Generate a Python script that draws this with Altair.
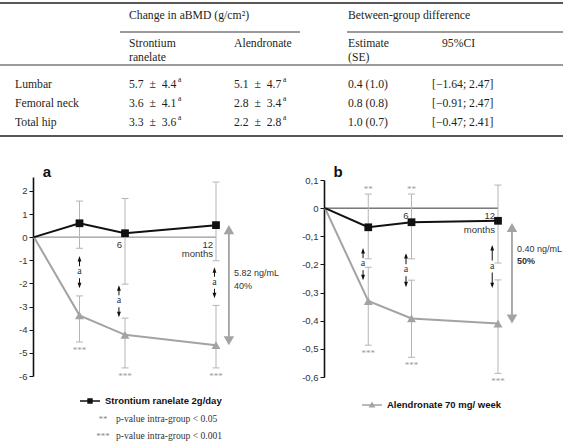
import altair as alt
import pandas as pd

SERIF = "Liberation Serif"
SANS = "Liberation Sans"

# ---------------- table values ----------------
row_names = ["Lumbar", "Femoral neck", "Total hip"]
sr_change = ["5.7\u2002±\u20024.4", "3.6\u2002±\u20024.1", "3.3\u2002±\u20023.6"]
al_change = ["5.1\u2002±\u20024.7", "2.8\u2002±\u20023.4", "2.2\u2002±\u20022.8"]
estimate = ["0.4 (1.0)", "0.8 (0.8)", "1.0 (0.7)"]
ci95 = ["[\u22121.64; 2.47]", "[\u22120.91; 2.47]", "[\u22120.47; 2.41]"]
header_top = ["Change in aBMD (g/cm²)", "Between-group difference"]
header_sub = ["Strontium", "Alendronate", "Estimate", "95%CI"]
header_sub2 = ["ranelate", "(SE)"]
sup_mark = "a"

# ---------------- panel values ----------------
months = [0, 3, 6, 12]
sr_name = "Strontium ranelate 2g/day"
al_name = "Alendronate 70 mg/ week"
x_tick_labels = ["6", "12"]
x_unit = "months"

a_ticks = [-6, -5, -4, -3, -2, -1, 0, 1, 2]
a_sr_mean = [0, 0.60, 0.17, 0.52]
a_sr_low = [-0.48, -2.03, -1.02]
a_sr_high = [1.56, 1.67, 2.38]
a_al_mean = [0, -3.38, -4.22, -4.67]
a_al_low = [-4.53, -5.65, -5.65]
a_al_high = [-2.54, -3.50, -2.95]
a_sr_stars = ["", "", ""]
a_al_stars = ["***", "***", "***"]
a_arrow_month = [3.0, 5.6, 11.9]
a_arrow_top = [-0.82, -2.08, -1.30]
a_arrow_bot = [-2.21, -3.46, -2.64]
a_gap = ["5.82 ng/mL", "40%"]

b_ticks = [-0.6, -0.5, -0.4, -0.3, -0.2, -0.1, 0, 0.1]
b_sr_mean = [0, -0.068, -0.050, -0.045]
b_sr_low = [-0.18, -0.18, -0.195]
b_sr_high = [0.05, 0.05, 0.082]
b_al_mean = [0, -0.33, -0.392, -0.41]
b_al_low = [-0.487, -0.53, -0.587]
b_al_high = [-0.21, -0.256, -0.255]
b_sr_stars = ["**", "**", ""]
b_al_stars = ["***", "***", "***"]
b_arrow_month = [2.64, 5.62, 11.6]
b_arrow_top = [-0.142, -0.16, -0.131]
b_arrow_bot = [-0.256, -0.281, -0.284]
b_gap = ["0.40 ng/mL", "50%"]

notes = [("**", "p-value intra-group < 0.05"), ("***", "p-value intra-group < 0.001")]

BLACK = "#111111"
GREY = "#a3a3a3"
ERR = "#b5b5b5"
TXT = "#333333"


def qx(field, sc):
    return alt.X(field, type="quantitative", scale=sc, axis=None)


def qy(field, sc, axis=None):
    return alt.Y(field, type="quantitative", scale=sc, axis=axis)


layers = []

# ---------------- table ----------------
recs = [
    dict(c=1, r=0, t=header_top[0]), dict(c=3, r=0, t=header_top[1]),
    dict(c=1, r=1, t=header_sub[0]), dict(c=2, r=1, t=header_sub[1]),
    dict(c=3, r=1, t=header_sub[2]), dict(c=5, r=1, t=header_sub[3]),
    dict(c=1, r=2, t=header_sub2[0]), dict(c=3, r=2, t=header_sub2[1]),
]
sups = []
for i, nm in enumerate(row_names):
    r = 3 + i
    recs += [dict(c=0, r=r, t=nm), dict(c=1, r=r, t=sr_change[i]),
             dict(c=2, r=r, t=al_change[i]), dict(c=3, r=r, t=estimate[i]),
             dict(c=4, r=r, t=ci95[i])]
    sups += [dict(c=1, r=r, t=sup_mark), dict(c=2, r=r, t=sup_mark)]
tbl_df = pd.DataFrame(recs)
sup_df = pd.DataFrame(sups)
col_sc = alt.Scale(domain=[0, 1, 2, 3, 4, 5], range=[15, 129, 234, 348, 432, 442], nice=False, zero=False)
row_sc = alt.Scale(domain=[0, 1, 2, 3, 4, 5], range=[15, 43, 57, 84, 103, 122], nice=False, zero=False)

layers.append(alt.Chart(tbl_df).mark_text(align="left", baseline="middle", font=SERIF,
                                          fontSize=11.7, color="#231f20").encode(
    x=qx("c", col_sc), y=qy("r", row_sc), text="t:N"))
layers.append(alt.Chart(sup_df).mark_text(align="left", baseline="middle", font=SERIF,
                                          fontSize=7.5, dx=49, dy=-4, color="#231f20").encode(
    x=qx("c", col_sc), y=qy("r", row_sc), text="t:N"))

for (x1, x2, y, w) in [(0, 563, 3, 1.4), (120, 300, 32, 0.9), (347, 563, 32, 0.9),
                       (0, 563, 65, 0.9), (0, 563, 136, 1.4)]:
    layers.append(alt.Chart(pd.DataFrame({"k": [0]})).mark_rule(color="#231f20", strokeWidth=w).encode(
        x=alt.value(x1), x2=alt.value(x2), y=alt.value(y)))

# ---------------- panels ----------------
PATH_SQ = "M-1,-0.08H1V0.08H-1Z M-0.27,-0.27H0.27V0.27H-0.27Z"
PATH_TRI = "M-1,-0.07H1V0.07H-1Z M0,-0.36L0.34,0.26H-0.34Z"
HEAD_UP = "M0,-1L0.7,1L-0.7,1Z"
HEAD_DN = "M0,1L0.7,-1L-0.7,-1Z"


def leg(x, y, path):
    return alt.Legend(orient="none", legendX=x, legendY=y, title=None, symbolType=path,
                      symbolSize=400, symbolOpacity=1, symbolStrokeWidth=0, padding=0,
                      labelFont=SANS, labelFontWeight="bold", labelFontSize=9.5,
                      labelColor=BLACK, labelOffset=5)


def panel(xs, ys, yaxis, sr_mean, sr_low, sr_high, al_mean, al_low, al_high,
          sr_stars, al_stars, arr_m, arr_top, arr_bot, big_top, big_bot, big_m,
          gap, gap_y, gap_dy2, gap_bold2, zero_color, zero_w, months_dy, sr_leg, al_leg):
    L = []
    zero = pd.DataFrame({"m0": [0], "m1": [12], "v": [0]})
    L.append(alt.Chart(zero).mark_rule(color=zero_color, strokeWidth=zero_w).encode(
        x=qx("m0", xs), x2=alt.X2("m1"), y=qy("v", ys, yaxis)))
    tl = pd.DataFrame({"m": [6, 12], "v": [0, 0], "t": x_tick_labels})
    L.append(alt.Chart(tl).mark_text(align="right", baseline="top", dx=-3, dy=2.5, font=SANS,
                                     fontSize=9.5, color=TXT).encode(
        x=qx("m", xs), y=qy("v", ys), text="t:N"))
    mo = pd.DataFrame({"m": [12], "v": [0], "t": [x_unit]})
    L.append(alt.Chart(mo).mark_text(align="right", baseline="top", dx=-3, dy=months_dy, font=SANS,
                                     fontSize=9.5, color=TXT).encode(
        x=qx("m", xs), y=qy("v", ys), text="t:N"))

    err = pd.DataFrame({"m": months[1:] * 2, "lo": sr_low + al_low, "hi": sr_high + al_high})
    L.append(alt.Chart(err).mark_rule(color=ERR, strokeWidth=1).encode(
        x=qx("m", xs), y=qy("lo", ys), y2=alt.Y2("hi")))
    for f in ["lo", "hi"]:
        L.append(alt.Chart(err).mark_tick(orient="horizontal", size=7, thickness=1, color=ERR,
                                          opacity=1).encode(x=qx("m", xs), y=qy(f, ys)))

    sr = pd.DataFrame({"m": months, "v": sr_mean, "s": sr_name})
    al = pd.DataFrame({"m": months, "v": al_mean, "s": al_name})
    L.append(alt.Chart(al).mark_line(color=GREY, strokeWidth=2).encode(x=qx("m", xs), y=qy("v", ys)))
    L.append(alt.Chart(sr).mark_line(color=BLACK, strokeWidth=2).encode(x=qx("m", xs), y=qy("v", ys)))

    enc = dict(x=qx("m", xs), y=qy("v", ys))
    if al_leg:
        enc_al = dict(enc, color=alt.Color("s:N", scale=alt.Scale(domain=[al_name], range=[GREY]),
                                           legend=leg(al_leg[0], al_leg[1], PATH_TRI)))
    else:
        enc_al = enc
    L.append(alt.Chart(al[al.m > 0]).mark_point(shape="triangle-up", filled=True, size=80, color=GREY,
                                                opacity=1).encode(**enc_al))
    if sr_leg:
        enc_sr = dict(enc, color=alt.Color("s:N", scale=alt.Scale(domain=[sr_name], range=[BLACK]),
                                           legend=leg(sr_leg[0], sr_leg[1], PATH_SQ)))
    else:
        enc_sr = enc
    L.append(alt.Chart(sr[sr.m > 0]).mark_point(shape="square", filled=True, size=60, color=BLACK,
                                                opacity=1).encode(**enc_sr))

    st_hi = pd.DataFrame({"m": months[1:], "v": sr_high, "t": sr_stars})
    L.append(alt.Chart(st_hi).mark_text(baseline="bottom", align="center", font=SERIF, fontSize=9,
                                        color="#999999").encode(x=qx("m", xs), y=qy("v", ys), text="t:N"))
    st_lo = pd.DataFrame({"m": months[1:], "v": al_low, "t": al_stars})
    L.append(alt.Chart(st_lo).mark_text(baseline="top", align="center", dy=4, font=SERIF, fontSize=9,
                                        color="#999999").encode(x=qx("m", xs), y=qy("v", ys), text="t:N"))

    ar = pd.DataFrame({"m": arr_m, "top": arr_top, "bot": arr_bot, "t": [sup_mark] * len(arr_m)})
    base = alt.Chart(ar).transform_calculate(mid="(datum.top + datum.bot) / 2")
    L.append(base.mark_rule(color=BLACK, strokeWidth=1, yOffset=2, y2Offset=-6).encode(
        x=qx("m", xs), y=qy("top", ys), y2=alt.Y2("mid")))
    L.append(base.mark_rule(color=BLACK, strokeWidth=1, yOffset=6, y2Offset=-2).encode(
        x=qx("m", xs), y=qy("mid", ys), y2=alt.Y2("bot")))
    L.append(base.mark_point(shape=HEAD_UP, size=30, filled=True, color=BLACK, opacity=1, yOffset=2.7).encode(
        x=qx("m", xs), y=qy("top", ys)))
    L.append(base.mark_point(shape=HEAD_DN, size=30, filled=True, color=BLACK, opacity=1, yOffset=-2.7).encode(
        x=qx("m", xs), y=qy("bot", ys)))
    L.append(base.mark_text(font=SERIF, fontSize=10, baseline="middle", align="center", dy=-1,
                            color=TXT).encode(x=qx("m", xs), y=qy("mid", ys), text="t:N"))

    bg = pd.DataFrame({"m": [big_m], "top": [big_top], "bot": [big_bot]})
    L.append(alt.Chart(bg).mark_rule(color=GREY, strokeWidth=1.8, yOffset=6, y2Offset=-6).encode(
        x=qx("m", xs), y=qy("top", ys), y2=alt.Y2("bot")))
    L.append(alt.Chart(bg).mark_point(shape="triangle-up", size=110, filled=True, color=GREY, opacity=1,
                                      yOffset=4.5).encode(x=qx("m", xs), y=qy("top", ys)))
    L.append(alt.Chart(bg).mark_point(shape="triangle-down", size=110, filled=True, color=GREY, opacity=1,
                                      yOffset=-4.5).encode(x=qx("m", xs), y=qy("bot", ys)))
    g1 = pd.DataFrame({"m": [big_m], "v": [gap_y], "t": [gap[0]]})
    g2 = pd.DataFrame({"m": [big_m], "v": [gap_y], "t": [gap[1]]})
    L.append(alt.Chart(g1).mark_text(align="left", baseline="middle", dx=5, font=SANS, fontSize=9,
                                     color=TXT).encode(x=qx("m", xs), y=qy("v", ys), text="t:N"))
    L.append(alt.Chart(g2).mark_text(align="left", baseline="middle", dx=5, dy=gap_dy2, font=SANS,
                                     fontSize=9, fontWeight="bold" if gap_bold2 else "normal",
                                     color=TXT).encode(x=qx("m", xs), y=qy("v", ys), text="t:N"))
    return L


def yaxis(values, offset, expr):
    return alt.Axis(orient="left", offset=offset, values=values, title=None, grid=False,
                    domainColor=BLACK, domainWidth=1.6, tickColor=BLACK, tickSize=4, tickWidth=1,
                    labelFont=SANS, labelFontSize=9.5, labelColor=TXT, labelPadding=2,
                    labelExpr=expr, labelOverlap=False)


xa = alt.Scale(domain=[0, 12], range=[34, 216], nice=False, zero=False)
ya = alt.Scale(domain=[-6, 2.6], range=[376, 177], nice=False, zero=False)
xb = alt.Scale(domain=[0, 12], range=[325, 498], nice=False, zero=False)
yb = alt.Scale(domain=[-0.6, 0.1], range=[377, 180], nice=False, zero=False)

layers += panel(xa, ya, yaxis(a_ticks, -33, "toString(datum.value)"),
                a_sr_mean, a_sr_low, a_sr_high, a_al_mean, a_al_low, a_al_high,
                a_sr_stars, a_al_stars, a_arrow_month, a_arrow_top, a_arrow_bot,
                a_sr_mean[-1], a_al_mean[-1], 12.85, a_gap, -1.56, 13, False,
                "#999999", 1.4, 12, (80, 391), None)
layers += panel(xb, yb, yaxis(b_ticks, -324, "replace(toString(datum.value), '.', ',')"),
                b_sr_mean, b_sr_low, b_sr_high, b_al_mean, b_al_low, b_al_high,
                b_sr_stars, b_al_stars, b_arrow_month, b_arrow_top, b_arrow_bot,
                -0.053, b_al_mean[-1], 12.97, b_gap, -0.146, 11.5, True,
                "#333333", 1, 17, None, (362, 395))

# panel letters and significance notes
layers.append(alt.Chart(pd.DataFrame({"t": ["a"]})).mark_text(
    font=SANS, fontSize=15, fontWeight="bold", align="center", baseline="alphabetic", color=BLACK).encode(
    x=alt.value(47), y=alt.value(177), text="t:N"))
layers.append(alt.Chart(pd.DataFrame({"t": ["b"]})).mark_text(
    font=SANS, fontSize=15, fontWeight="bold", align="center", baseline="alphabetic", color=BLACK).encode(
    x=alt.value(338), y=alt.value(177), text="t:N"))
for i, (stars, txt) in enumerate(notes):
    yy = 419 + 17 * i
    layers.append(alt.Chart(pd.DataFrame({"t": [stars]})).mark_text(
        font=SERIF, fontSize=9, align="center", baseline="middle", color="#888888").encode(
        x=alt.value(103), y=alt.value(yy), text="t:N"))
    layers.append(alt.Chart(pd.DataFrame({"t": [txt]})).mark_text(
        font=SERIF, fontSize=9.6, align="left", baseline="middle", color=TXT).encode(
        x=alt.value(116), y=alt.value(yy), text="t:N"))

chart = alt.layer(*layers).resolve_scale(
    x="independent", y="independent", color="independent"
).resolve_legend(color="independent").properties(
    width=563, height=447, padding=0, background="white",
    autosize=alt.AutoSizeParams(type="none"),
).configure_view(stroke=None)

chart.save("out.html", embed_options={"renderer": "svg", "actions": False})
